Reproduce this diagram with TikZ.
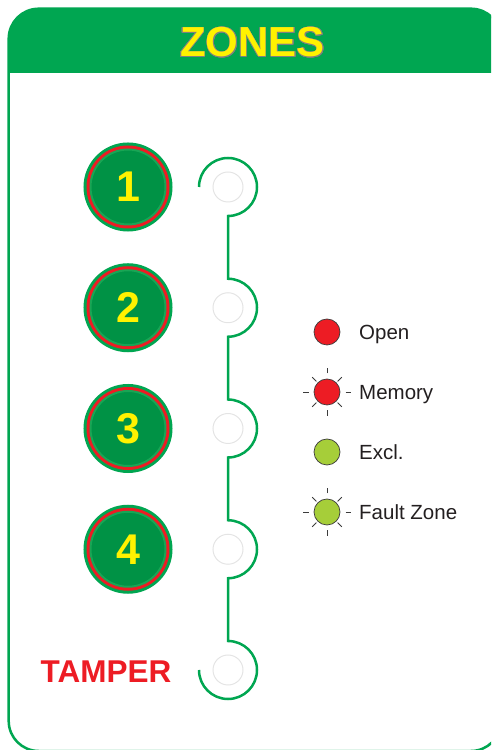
\documentclass[tikz,border=0pt]{standalone}
\usepackage{fontspec}
\setmainfont{Liberation Sans}
\usepackage{contour}
\usetikzlibrary{calc}
\definecolor{zgreen}{RGB}{0,166,81}
\definecolor{dkgreen}{RGB}{0,146,69}
\definecolor{ltgreen}{RGB}{25,165,85}
\definecolor{zred}{RGB}{237,28,36}
\definecolor{zyellow}{RGB}{255,242,0}
\definecolor{lime}{RGB}{166,206,57}
\definecolor{ledgray}{RGB}{228,228,228}
\definecolor{txtgray}{RGB}{35,31,32}
\definecolor{ledline}{RGB}{60,60,60}
\begin{document}
\begin{tikzpicture}[x=1pt,y=1pt,
  zbtn/.style={circle, inner sep=0, minimum size=75, fill=dkgreen, draw=ltgreen, line width=2,
    preaction={draw=zgreen, line width=14}, preaction={draw=zred, line width=8},
    font=\bfseries\fontsize{43}{43}\selectfont, text=zyellow},
  led/.style={circle, inner sep=0, minimum size=30, draw=ledgray, line width=1},
  lgd/.style={circle, inner sep=0, minimum size=26, draw=ledline, line width=0.7},
  ray/.style={draw=ledline, line width=0.9},
  lbl/.style={anchor=base west, inner sep=0, text=txtgray, font=\fontsize{20.5}{20.5}\selectfont},
  wire/.style={draw=zgreen, line width=2.5}
]
\useasboundingbox (0,0) rectangle (491,750);
\clip (0,0) rectangle (491,750);
% header
\fill[zgreen] (8.7,677) -- (8.7,711.3) arc[start angle=180,end angle=90,radius=30]
  -- (471,741.3) arc[start angle=90,end angle=0,radius=30] -- (501,677) -- cycle;
% frame (right side lies outside the picture)
\draw[zgreen, line width=2.5] (501,711.3) arc[start angle=0,end angle=90,radius=30]
  -- (38.7,741.3) arc[start angle=90,end angle=180,radius=30]
  -- (8.7,29) arc[start angle=180,end angle=270,radius=30]
  -- (471,-1) arc[start angle=270,end angle=360,radius=30];
\node[font=\bfseries\fontsize{42}{42}\selectfont, text=zyellow, anchor=base, inner sep=0] (title) at (252.5,693)
  {\contourlength{0.5pt}\contour{gray}{ZONES}};
% zone buttons
\node[zbtn] (b1) at (128,563) {1};
\node[zbtn] (b2) at (128,442.25) {2};
\node[zbtn] (b3) at (128,321.5) {3};
\node[zbtn] (b4) at (128,200.75) {4};
\node[font=\bfseries\fontsize{31.5}{31.5}\selectfont, text=zred, inner sep=0] (tamper) at (106,78.5) {TAMPER};
% leds
\node[led] (l1) at (228,563) {};
\node[led] (l2) at (228,442.25) {};
\node[led] (l3) at (228,321.5) {};
\node[led] (l4) at (228,200.75) {};
\node[led] (l5) at (228,80) {};
% wire
\draw[wire] ([xshift=-29pt]l1.center) arc[start angle=180,end angle=-90,radius=29]
  -- ([yshift=29pt]l2.center) arc[start angle=90,end angle=-90,radius=29]
  -- ([yshift=29pt]l3.center) arc[start angle=90,end angle=-90,radius=29]
  -- ([yshift=29pt]l4.center) arc[start angle=90,end angle=-90,radius=29]
  -- ([yshift=29pt]l5.center) arc[start angle=90,end angle=-180,radius=29];
% legend
\node[lgd, fill=zred] (open) at (327,418) {};
\node[lgd, fill=zred] (mem) at (327,358) {};
\node[lgd, fill=lime] (excl) at (327,298) {};
\node[lgd, fill=lime] (fault) at (327,238) {};
\foreach \n in {mem,fault}{
  \foreach \a in {0,90,180,270}
    \draw[ray] ($(\n.center)+(\a:18.5)$) -- ($(\n.center)+(\a:24)$);
  \foreach \a in {45,135,225,315}
    \draw[ray] ($(\n.center)+(\a:15)$) -- ($(\n.center)+(\a:21)$);
}
\node[lbl] (topen) at ($(open.center)+(32,-7.4)$) {Open};
\node[lbl] (tmem) at ($(mem.center)+(32,-7.4)$) {Memory};
\node[lbl] (texcl) at ($(excl.center)+(32,-7.4)$) {Excl.};
\node[lbl] (tfault) at ($(fault.center)+(32,-7.4)$) {Fault Zone};
\end{tikzpicture}
\end{document}
